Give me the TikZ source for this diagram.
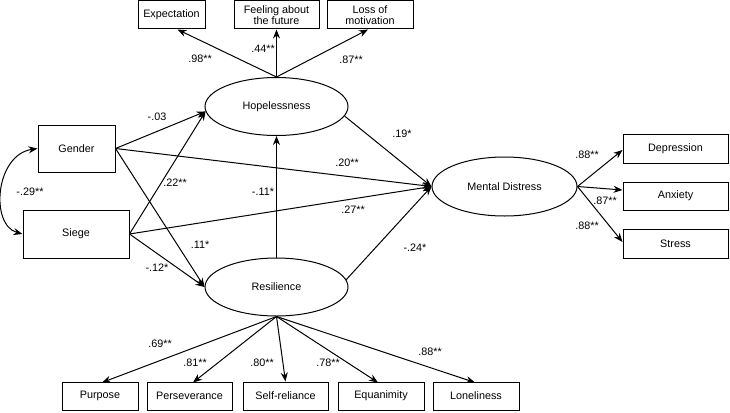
\documentclass[tikz,border=0pt]{standalone}
\usepackage{fontspec}
\setmainfont{Liberation Sans}
\usetikzlibrary{arrows.meta,shapes.geometric,calc}
\begin{document}
\begin{tikzpicture}[x=1pt,y=-1pt,
  font=\fontsize{10.8}{13}\selectfont,
  box/.style={draw,line width=1pt,rectangle,inner sep=0pt,align=center},
  latent/.style={draw,line width=1pt,ellipse,inner sep=0pt,minimum width=143pt,minimum height=58pt},
  arr/.style={line width=1pt,-{Stealth[length=9pt,width=7pt]}},
  darr/.style={line width=1pt,{Stealth[length=9pt,width=7pt]}-{Stealth[length=9pt,width=7pt]}},
  lab/.style={inner sep=0pt,font=\fontsize{10.8}{12}\selectfont}]
\useasboundingbox (0,0) rectangle (730,412);
% indicators of hopelessness
\node[box,minimum width=67pt,minimum height=28pt] (exp) at (171.5,15) {Expectation};
\node[box,minimum width=85pt,minimum height=28pt] (feel) at (276.5,15) {Feeling about\\[-2.5pt]the future};
\node[box,minimum width=86pt,minimum height=28pt] (loss) at (370,15) {Loss of\\[-2.5pt]motivation};
% latents
\node[latent] (hope) at (276.5,106.5) {Hopelessness};
\node[latent] (res) at (276.5,287) {Resilience};
\node[latent,minimum width=145pt,minimum height=59pt] (md) at (504.5,186.5) {Mental Distress};
% exogenous
\node[box,minimum width=77pt,minimum height=47pt] (gen) at (76.5,148.5) {Gender};
\node[box,minimum width=106pt,minimum height=48pt] (sie) at (76,234) {Siege};
% mental distress indicators
\node[box,minimum width=105pt,minimum height=29pt] (dep) at (675.5,148.5) {Depression};
\node[box,minimum width=105pt,minimum height=28pt] (anx) at (675.5,196) {Anxiety};
\node[box,minimum width=105pt,minimum height=29pt] (str) at (675.5,243.5) {Stress};
% resilience indicators
\node[box,minimum width=76pt,minimum height=28pt] (pur) at (100,396) {Purpose};
\node[box,minimum width=85pt,minimum height=28pt] (per) at (189.5,396) {Perseverance};
\node[box,minimum width=85pt,minimum height=28pt] (sel) at (285.5,396) {Self-reliance};
\node[box,minimum width=86pt,minimum height=28pt] (equ) at (381,396) {Equanimity};
\node[box,minimum width=86pt,minimum height=28pt] (lon) at (476,396) {Loneliness};
% loadings hopelessness
\draw[arr] (hope.north) -- ($(exp.south)+(6,0)$);
\draw[arr] (hope.north) -- (feel.south);
\draw[arr] (hope.north) -- ($(loss.south)+(-2,0)$);
% structural paths
\draw[arr] (gen.east) -- (hope.184);
\draw[arr] (sie.east) -- (hope.184);
\draw[arr] (gen.east) -- (res.west);
\draw[arr] (sie.east) -- (res.west);
\draw[arr] (gen.east) -- (md.west);
\draw[arr] (sie.east) -- (md.west);
\draw[arr] (res.north) -- (hope.south);
\draw[arr] (hope.-8) -- (md.west);
\draw[arr] (res.6) -- (md.west);
\draw[darr] (gen.west) .. controls (-5,155) and (-10,225) .. (sie.west);
% mental distress loadings
\draw[arr] (md.east) -- ($(dep.west)+(0,1.5)$);
\draw[arr] (md.east) -- ($(anx.west)+(0,-6)$);
\draw[arr] (md.east) -- ($(str.west)+(0,-1.5)$);
% resilience loadings
\draw[arr] (res.south) -- ($(pur.south)+(2,-28)$);
\draw[arr] (res.south) -- ($(per.south)+(3.5,-28)$);
\draw[arr] (res.south) -- (sel.north);
\draw[arr] (res.south) -- ($(equ.south)+(-3,-28)$);
\draw[arr] (res.south) -- ($(lon.south)+(-1,-28)$);
% labels
\node[lab] (l1) at (200,59) {.98**};
\node[lab] (l2) at (263,49) {.44**};
\node[lab] (l3) at (351,60) {.87**};
\node[lab] (l4) at (157,117) {-.03};
\node[lab] (l5) at (402,134) {.19*};
\node[lab] (l6) at (347,163) {.20**};
\node[lab] (l7) at (175,183) {.22**};
\node[lab] (l8) at (263,192) {-.11*};
\node[lab] (l9) at (30,192) {-.29**};
\node[lab] (l10) at (353,210) {.27**};
\node[lab] (l11) at (200,245) {.11*};
\node[lab] (l12) at (157,268) {-.12*};
\node[lab] (l13) at (415,248) {-.24*};
\node[lab] (l14) at (587,155) {.88**};
\node[lab] (l15) at (605,201) {.87**};
\node[lab] (l16) at (587,226) {.88**};
\node[lab] (l17) at (160,344) {.69**};
\node[lab] (l18) at (195,363) {.81**};
\node[lab] (l19) at (262,363) {.80**};
\node[lab] (l20) at (328,363) {.78**};
\node[lab] (l21) at (430,352) {.88**};
\end{tikzpicture}
\end{document}
